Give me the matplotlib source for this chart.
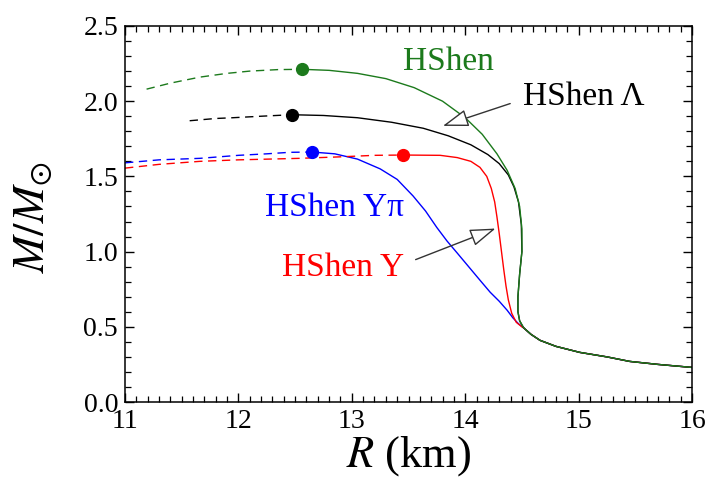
import numpy as np
import matplotlib
matplotlib.use('Agg')
import matplotlib.pyplot as plt
from matplotlib.ticker import MultipleLocator, FormatStrFormatter

plt.rcParams['font.family'] = ['Liberation Serif', 'DejaVu Serif']
plt.rcParams['mathtext.fontset'] = 'stix'

#shared low-mass tail of all four M-R curves
tail_r = [14.52, 14.58, 14.66, 14.80, 15.01, 15.25, 15.45, 15.70, 16.00]
tail_m = [0.49, 0.45, 0.41, 0.37, 0.33, 0.30, 0.27, 0.25, 0.23]

#HShen (nucleons only)
hs_r_dash = [11.19, 11.40, 11.66, 11.90, 12.10, 12.35, 12.56]
hs_m_dash = [2.08, 2.12, 2.16, 2.185, 2.20, 2.21, 2.212]
hs_r = [12.56, 12.80, 13.05, 13.30, 13.55, 13.80, 14.00, 14.15, 14.28, 14.37, 14.44,
        14.48, 14.50, 14.50, 14.48, 14.465, 14.465, 14.48, 14.51]
hs_m = [2.212, 2.205, 2.185, 2.15, 2.09, 2.00, 1.89, 1.78, 1.65, 1.54, 1.42,
        1.30, 1.15, 1.00, 0.85, 0.70, 0.60, 0.54, 0.50]

#HShen Lambda
hl_r_dash = [11.57, 11.80, 11.95, 12.20, 12.47]
hl_m_dash = [1.87, 1.885, 1.89, 1.90, 1.91]
hl_r = [12.47, 12.75, 13.05, 13.35, 13.63, 13.85, 14.05, 14.20, 14.30, 14.38, 14.43,
        14.47, 14.495, 14.50, 14.48, 14.465, 14.465, 14.48, 14.51]
hl_m = [1.91, 1.905, 1.89, 1.86, 1.82, 1.77, 1.71, 1.645, 1.585, 1.51, 1.43,
        1.33, 1.18, 1.00, 0.85, 0.70, 0.60, 0.54, 0.50]

#HShen Y
hy_r_dash = [11.00, 11.30, 11.66, 12.00, 12.54, 12.90, 13.20, 13.45]
hy_m_dash = [1.555, 1.58, 1.60, 1.61, 1.62, 1.63, 1.64, 1.642]
hy_r = [13.45, 13.78, 13.93, 14.05, 14.13, 14.19, 14.23, 14.26, 14.28, 14.30, 14.32,
        14.34, 14.36, 14.38, 14.41, 14.45, 14.50]
hy_m = [1.642, 1.64, 1.625, 1.60, 1.56, 1.50, 1.42, 1.33, 1.23, 1.12, 1.00,
        0.88, 0.77, 0.68, 0.59, 0.53, 0.50]

#HShen Y pi
hp_r_dash = [11.00, 11.30, 11.66, 12.00, 12.25, 12.45, 12.65]
hp_m_dash = [1.59, 1.61, 1.62, 1.64, 1.65, 1.66, 1.662]
hp_r = [12.65, 12.85, 13.05, 13.25, 13.40, 13.54, 13.65, 13.75, 13.84, 13.93,
        14.03, 14.13, 14.22, 14.30, 14.37, 14.42, 14.47]
hp_m = [1.662, 1.65, 1.615, 1.55, 1.48, 1.37, 1.27, 1.16, 1.07, 0.99,
        0.90, 0.81, 0.73, 0.67, 0.61, 0.56, 0.52]

curves = [
    (hp_r_dash, hp_m_dash, hp_r, hp_m, 'blue'),
    (hy_r_dash, hy_m_dash, hy_r, hy_m, 'red'),
    (hl_r_dash, hl_m_dash, hl_r, hl_m, 'black'),
    (hs_r_dash, hs_m_dash, hs_r, hs_m, '#1c7a1c'),
]

fig = plt.figure(figsize=(7.12, 4.92), dpi=100)
ax = fig.add_axes([0.1756, 0.1829, 0.7963, 0.7643])

for rd, md, rs, ms, c in curves:
    ax.plot(rd, md, color=c, lw=1.0, dashes=(6, 4))
    ax.plot(rs + tail_r, ms + tail_m, color=c, lw=1.0)
    ax.plot(rs[0], ms[0], 'o', color=c, ms=8.5, zorder=5)

#labels
ax.text(13.45, 2.26, 'HShen', color='#1c7a1c', fontsize=24, va='center')
ax.text(14.51, 2.03, 'HShen Λ', color='black', fontsize=24, va='center')
ax.text(12.23, 1.29, 'HShen Yπ', color='blue', fontsize=24, va='center')
ax.text(12.38, 0.89, 'HShen Y', color='red', fontsize=24, va='center')

#arrows with open heads
astyle = dict(arrowstyle='-|>,head_length=0.8,head_width=0.27', mutation_scale=20,
              color='#333333', fc='white', lw=1.0)
ax.annotate('', xy=(13.78, 1.83), xytext=(14.42, 1.99), arrowprops=astyle)
ax.annotate('', xy=(14.29, 1.16), xytext=(13.54, 0.94), arrowprops=astyle)

ax.set_xlim(11, 16)
ax.set_ylim(0, 2.5)
ax.xaxis.set_major_locator(MultipleLocator(1))
ax.xaxis.set_minor_locator(MultipleLocator(0.1))
ax.yaxis.set_major_locator(MultipleLocator(0.5))
ax.yaxis.set_minor_locator(MultipleLocator(0.1))
ax.yaxis.set_major_formatter(FormatStrFormatter('%.1f'))
ax.tick_params(which='both', direction='in', top=True, right=True, labelsize=20, pad=5)
ax.tick_params(which='major', length=6.5, width=1.0)
ax.tick_params(which='minor', length=4.5, width=0.9)
for s in ax.spines.values():
    s.set_linewidth(1.1)

ax.set_xlabel(r'$R$ (km)', fontsize=32, labelpad=0)
ax.set_ylabel(r'$M/M_{\odot}$', fontsize=32)
ax.yaxis.set_label_coords(-0.125, 0.49)

plt.savefig('out.png', dpi=100)
